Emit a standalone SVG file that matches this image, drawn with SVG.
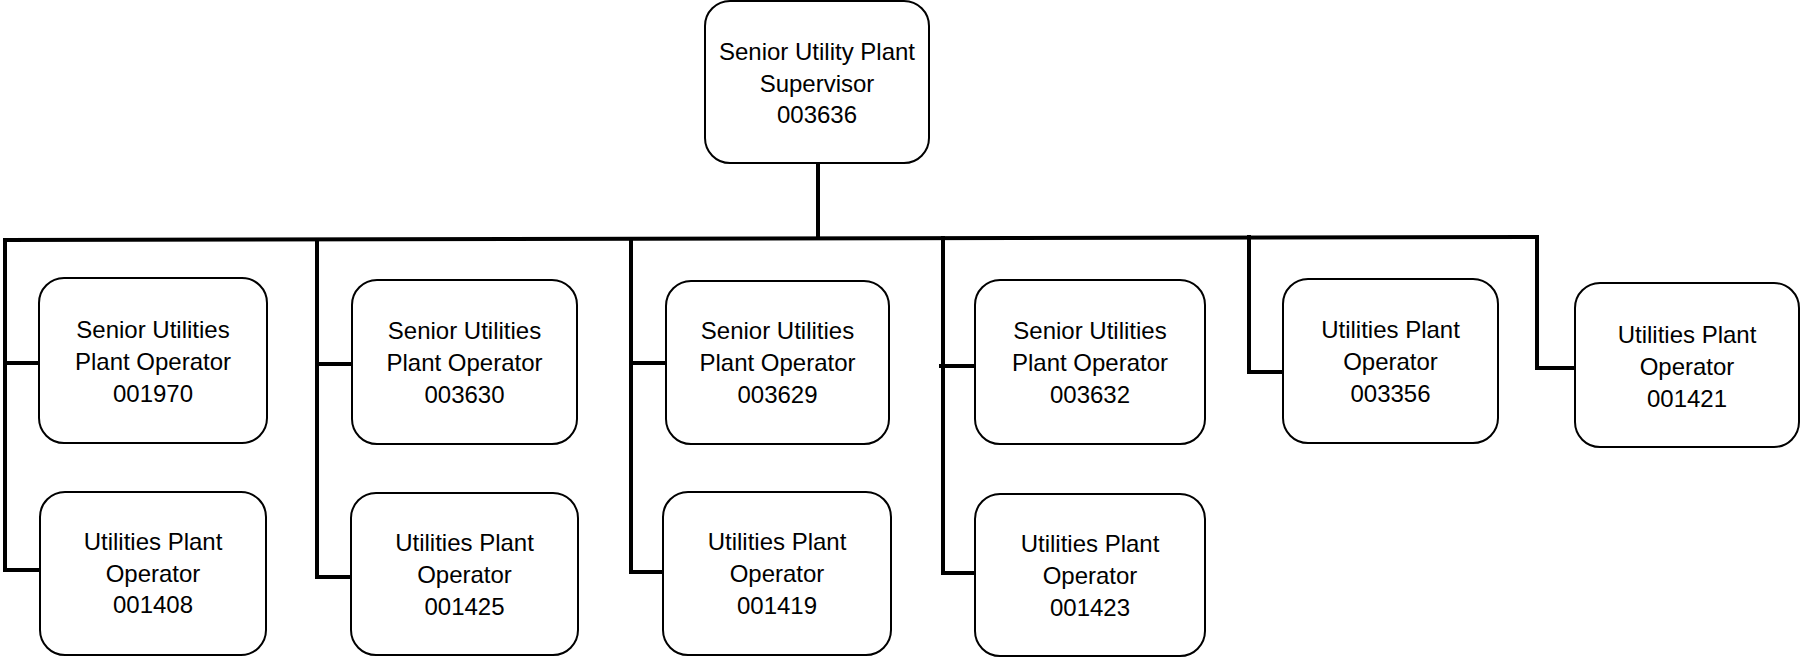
<svg xmlns="http://www.w3.org/2000/svg" width="1801" height="657" viewBox="0 0 1801 657">
<style>
.box{fill:#fff;stroke:#000;stroke-width:2}
.t{font-family:"Liberation Sans",Arial,sans-serif;font-size:24px;fill:#000;text-anchor:middle}
.c{fill:none;stroke:#000;stroke-width:4;stroke-linejoin:miter;stroke-linecap:square}
</style>
<rect width="1801" height="657" fill="#fff"/>
<g id="connectors">
<path class="c" d="M818 163 V238"/>
<path class="c" d="M5 240 L1537 237"/>
<path class="c" d="M5 240 V570 H40 M5 363 H39"/>
<path class="c" d="M317 240 V577 H351 M317 364 H352"/>
<path class="c" d="M631 239 V572 H663 M631 363 H666"/>
<path class="c" d="M943 238 V573 H975 M941 366 H975"/>
<path class="c" d="M1249 237 V372 H1283"/>
<path class="c" d="M1537 237 V368 H1575"/>
</g>
<g id="n0"><rect class="box" x="705" y="1" width="224" height="162" rx="25"/>
<text class="t" x="817" y="60">Senior Utility Plant</text><text class="t" x="817" y="92">Supervisor</text><text class="t" x="817" y="123">003636</text></g>
<g id="n1"><rect class="box" x="39" y="278" width="228" height="165" rx="25"/>
<text class="t" x="153" y="338">Senior Utilities</text><text class="t" x="153" y="370">Plant Operator</text><text class="t" x="153" y="402">001970</text></g>
<g id="n2"><rect class="box" x="40" y="492" width="226" height="163" rx="25"/>
<text class="t" x="153" y="550">Utilities Plant</text><text class="t" x="153" y="582">Operator</text><text class="t" x="153" y="613">001408</text></g>
<g id="n3"><rect class="box" x="352" y="280" width="225" height="164" rx="25"/>
<text class="t" x="464.5" y="339">Senior Utilities</text><text class="t" x="464.5" y="371">Plant Operator</text><text class="t" x="464.5" y="403">003630</text></g>
<g id="n4"><rect class="box" x="351" y="493" width="227" height="162" rx="25"/>
<text class="t" x="464.5" y="551">Utilities Plant</text><text class="t" x="464.5" y="583">Operator</text><text class="t" x="464.5" y="615">001425</text></g>
<g id="n5"><rect class="box" x="666" y="281" width="223" height="163" rx="25"/>
<text class="t" x="777.5" y="339">Senior Utilities</text><text class="t" x="777.5" y="371">Plant Operator</text><text class="t" x="777.5" y="403">003629</text></g>
<g id="n6"><rect class="box" x="663" y="492" width="228" height="163" rx="25"/>
<text class="t" x="777" y="550">Utilities Plant</text><text class="t" x="777" y="582">Operator</text><text class="t" x="777" y="614">001419</text></g>
<g id="n7"><rect class="box" x="975" y="280" width="230" height="164" rx="25"/>
<text class="t" x="1090" y="339">Senior Utilities</text><text class="t" x="1090" y="371">Plant Operator</text><text class="t" x="1090" y="403">003632</text></g>
<g id="n8"><rect class="box" x="975" y="494" width="230" height="162" rx="25"/>
<text class="t" x="1090" y="552">Utilities Plant</text><text class="t" x="1090" y="584">Operator</text><text class="t" x="1090" y="616">001423</text></g>
<g id="n9"><rect class="box" x="1283" y="279" width="215" height="164" rx="25"/>
<text class="t" x="1390.5" y="338">Utilities Plant</text><text class="t" x="1390.5" y="370">Operator</text><text class="t" x="1390.5" y="402">003356</text></g>
<g id="n10"><rect class="box" x="1575" y="283" width="224" height="164" rx="25"/>
<text class="t" x="1687" y="343">Utilities Plant</text><text class="t" x="1687" y="375">Operator</text><text class="t" x="1687" y="407">001421</text></g>
</svg>
